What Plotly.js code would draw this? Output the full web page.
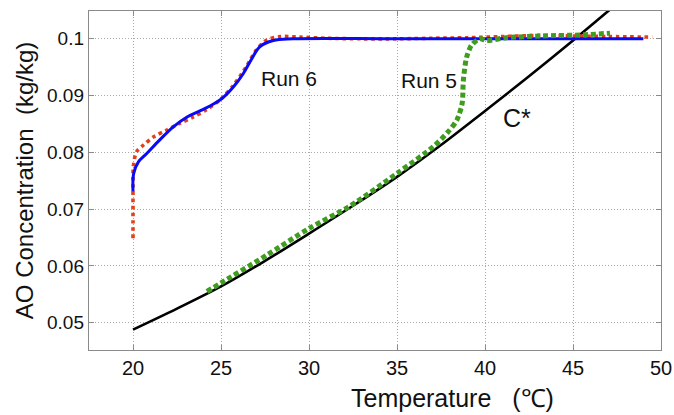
<!DOCTYPE html>
<html>
<head>
<meta charset="utf-8">
<script src="https://cdn.plot.ly/plotly-3.0.1.min.js"></script>
<style>html,body{margin:0;padding:0;background:#fff;}#chart{width:674px;height:415px;}</style>
</head>
<body>
<div id="chart"></div>
<script>
// C* (solubility) curve
const cstarT = [20, 22.5, 25, 27.5, 30, 32.5, 35, 37.5, 40, 42.5, 45, 47.5];
const cstarC = [0.0488, 0.0525, 0.0564, 0.0609, 0.0657, 0.0706, 0.0757, 0.0813, 0.0873, 0.0934, 0.0997, 0.1062];

// Run 5 (green dotted)
const run5T = [24.2, 25, 27.6, 30, 32.3, 35, 37.06, 37.9, 38.4, 38.7, 38.77, 38.96, 39.24, 39.7, 40.1, 41.2, 43.3, 45.6, 47.1];
const run5C = [0.0555, 0.0570, 0.0619, 0.0666, 0.0705, 0.0763, 0.0810, 0.0836, 0.0857, 0.0886, 0.0927, 0.0968, 0.0989, 0.1000, 0.0997, 0.1002, 0.1005, 0.1007, 0.1010];

// Run 6 (red dotted)
const run6aT = [20, 20, 20, 20.02, 20.2, 20.6, 21.15, 21.9, 22.65, 23.4, 24.17, 24.93, 25.7, 26.44, 27.0, 27.6, 28.35, 29.5, 31, 33, 35, 37, 39, 41, 43, 45, 47, 49.5];
const run6aC = [0.0649, 0.0700, 0.0740, 0.0775, 0.0801, 0.0813, 0.0827, 0.0839, 0.0851, 0.0862, 0.0875, 0.0892, 0.0918, 0.0951, 0.0980, 0.0998, 0.1004, 0.1003, 0.1001, 0.1000, 0.1000, 0.1001, 0.1002, 0.1004, 0.1006, 0.1005, 0.1004, 0.1003];

// Run 6 (blue solid)
const run6bT = [20, 20.04, 20.3, 20.78, 21.52, 22.29, 23.05, 23.8, 24.5, 25.1, 25.7, 26.27, 26.75, 27.2, 27.97, 29.1, 35, 42, 49];
const run6bC = [0.0731, 0.0763, 0.0783, 0.0798, 0.0822, 0.0845, 0.0862, 0.0873, 0.0884, 0.0896, 0.0915, 0.0939, 0.0965, 0.0986, 0.0997, 0.1000, 0.1000, 0.1000, 0.1000];

const xTicks = [20, 25, 30, 35, 40, 45, 50];
const yTicks = [0.05, 0.06, 0.07, 0.08, 0.09, 0.1];
const yTickText = ['0.05', '0.06', '0.07', '0.08', '0.09', '0.1'];

const labels = [
  {text: 'Run 6', x: 28.86, y: 0.0931, size: 21},
  {text: 'Run 5', x: 36.8, y: 0.0927, size: 21},
  {text: 'C*', x: 41.8, y: 0.0860, size: 25}
];

const FONT = 'Liberation Sans, Arial, sans-serif';

const traces = [
  {x: cstarT, y: cstarC, mode: 'lines', line: {color: '#000000', width: 2.6, shape: 'spline', smoothing: 1}, name: 'C*'},
  {x: run6aT, y: run6aC, mode: 'lines', line: {color: '#e2401c', width: 3.6, dash: '3.6px,3.6px', shape: 'spline', smoothing: 0.8}, name: 'Run 6 meas'},
  {x: run6bT, y: run6bC, mode: 'lines', line: {color: '#0a0af5', width: 3, shape: 'spline', smoothing: 1}, name: 'Run 6'},
  {x: run5T, y: run5C, mode: 'lines', line: {color: '#3e9c1e', width: 5, dash: '5px,3px', shape: 'spline', smoothing: 0.8}, name: 'Run 5'}
];

const annotations = labels.map(l => ({
  x: l.x, y: l.y, xref: 'x', yref: 'y', text: l.text, showarrow: false,
  font: {family: FONT, size: l.size, color: '#111'}, xanchor: 'center', yanchor: 'middle'
}));
annotations.push({
  x: (452 - 89) / (661 - 89), y: -(398 - 350) / (350 - 11), xref: 'paper', yref: 'paper',
  text: 'Temperature \u00a0 (\u2103)', showarrow: false, xanchor: 'center', yanchor: 'middle',
  font: {family: FONT, size: 25, color: '#111'}
});

const layout = {
  width: 674, height: 415,
  margin: {l: 89, r: 13, t: 11, b: 65},
  paper_bgcolor: '#ffffff', plot_bgcolor: '#ffffff',
  showlegend: false,
  font: {family: FONT, color: '#111'},
  xaxis: {
    range: [17.5, 50], tickvals: xTicks, ticktext: xTicks.map(String),
    showgrid: true, gridcolor: '#a8a8a8', griddash: '1px,2px', gridwidth: 1,
    showline: true, linecolor: '#8a8a8a', linewidth: 1.2, mirror: 'ticks',
    ticks: 'inside', ticklen: 5, tickcolor: '#8a8a8a',
    tickfont: {family: FONT, size: 20, color: '#111'}, zeroline: false
  },
  yaxis: {
    range: [0.0452, 0.1049], tickvals: yTicks, ticktext: yTickText,
    showgrid: true, gridcolor: '#a8a8a8', griddash: '1px,2px', gridwidth: 1,
    showline: true, linecolor: '#8a8a8a', linewidth: 1.2, mirror: 'ticks',
    ticks: 'inside', ticklen: 5, tickcolor: '#8a8a8a',
    tickfont: {family: FONT, size: 19, color: '#111'}, zeroline: false,
    title: {text: 'AO Concentration \u00a0(kg/kg)', font: {family: FONT, size: 24, color: '#111'}, standoff: 6}
  },
  annotations: annotations
};

Plotly.newPlot('chart', traces, layout, {staticPlot: true, displayModeBar: false});
</script>
</body>
</html>
